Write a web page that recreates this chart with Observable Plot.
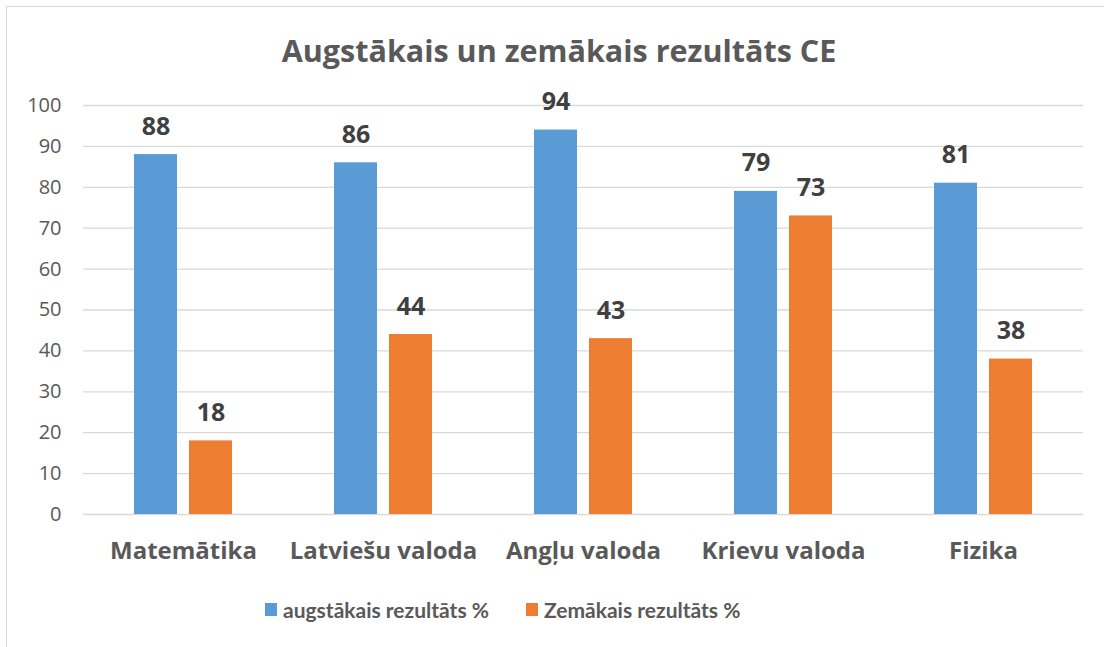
<!DOCTYPE html>
<html><head><meta charset="utf-8">
<script src="https://cdn.jsdelivr.net/npm/d3@7"></script>
<script src="https://cdn.jsdelivr.net/npm/@observablehq/plot@0.6"></script>
<style>
body{margin:0;background:#fff;font-family:"Open Sans",Lato,sans-serif;}
#wrap{position:relative;width:1104px;height:647px;overflow:hidden;}
#frame{position:absolute;left:6px;top:6px;width:1200px;height:700px;border-left:1.5px solid #d9d9d9;border-top:1.5px solid #d9d9d9;}
#title{position:absolute;left:0;width:1118px;top:29px;text-align:center;font-size:30.5px;font-weight:700;color:#595959;}
#chart{position:absolute;left:0;top:0;}
#legend{position:absolute;top:597px;left:265px;display:flex;align-items:center;font-family:Lato,sans-serif;font-size:21px;font-weight:700;color:#595959;}
.sw{width:12px;height:13px;display:inline-block;margin-right:6px;}
</style></head>
<body><div id="wrap"><div id="frame"></div><div id="chart"></div>
<div id="title">Augstākais un zemākais rezultāts CE</div>
<div id="legend"></div></div>
<script>
const categories = ["Matemātika","Latviešu valoda","Angļu valoda","Krievu valoda","Fizika"];
const seriesNames = ["augstākais rezultāts %","Zemākais rezultāts %"];
const highest = [88,86,94,79,81];
const lowest = [18,44,43,73,38];
const colors = ["#5B9BD5","#ED7D31"];
const yTicks = [0,10,20,30,40,50,60,70,80,90,100];

const data = [];
categories.forEach((c,i)=>{
  data.push({cat:c, series:seriesNames[0], value:highest[i]});
  data.push({cat:c, series:seriesNames[1], value:lowest[i]});
});

const plot = Plot.plot({
  width:1104, height:647,
  marginLeft:82, marginRight:20, marginTop:105, marginBottom:133,
  style:{fontFamily:"'Open Sans', Lato, sans-serif", background:"transparent"},
  fx:{domain:categories, padding:0, label:null, axis:"bottom", tickSize:0, tickPadding:27},
  x:{domain:seriesNames, axis:null, paddingInner:0.214, paddingOuter:0.896},
  y:{domain:[0,100], ticks:yTicks, label:null, tickSize:0, tickPadding:22},
  color:{domain:seriesNames, range:colors},
  marks:[
    Plot.ruleY(yTicks,{stroke:"#d9d9d9", strokeWidth:1.3}),
    Plot.barY(data,{fx:"cat", x:"series", y:"value", fill:"series"}),
    Plot.text(data,{fx:"cat", x:"series", y:"value", text:d=>String(d.value), dy:-28, fontSize:25, fontWeight:"bold", fill:"#404040"})
  ]
});
plot.querySelectorAll('g[aria-label="y-axis tick label"]').forEach(g=>{g.setAttribute("font-size","20");g.setAttribute("fill","#595959");});
plot.querySelectorAll('g[aria-label="fx-axis tick label"]').forEach(g=>{g.setAttribute("font-size","24");g.setAttribute("font-weight","bold");g.setAttribute("fill","#595959");});
document.getElementById("chart").appendChild(plot);

const leg = document.getElementById("legend");
seriesNames.forEach((s,i)=>{
  const item = document.createElement("span");
  item.style.display="inline-flex"; item.style.alignItems="center"; item.style.marginRight= i===0? "37px":"0";
  item.innerHTML = `<span class="sw" style="background:${colors[i]}"></span>${s}`;
  leg.appendChild(item);
});
</script></body></html>
